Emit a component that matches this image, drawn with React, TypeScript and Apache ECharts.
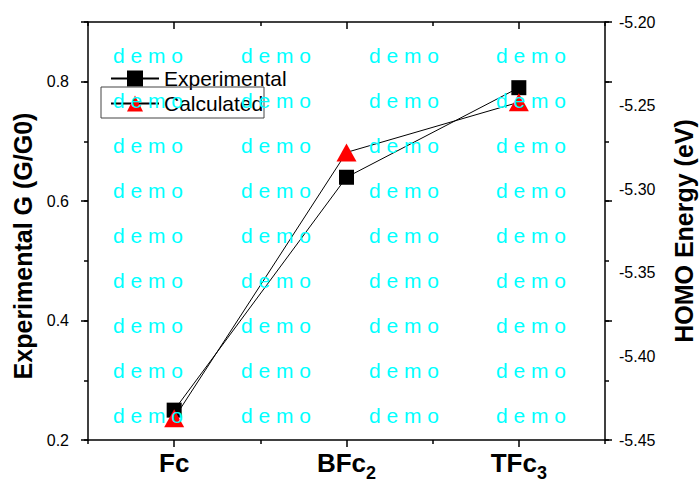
import React, { useEffect, useRef } from 'react';
import * as echarts from 'echarts';

// ---- data ----
const categories = ['Fc', 'BFc2', 'TFc3'];
const experimentalG = [0.25, 0.64, 0.79];
const calculatedHOMO = [-5.437, -5.278, -5.248];
const leftTickLabels = [0.2, 0.4, 0.6, 0.8];
const rightTickLabels = [-5.45, -5.4, -5.35, -5.3, -5.25, -5.2];
const seriesNames = ['Experimental', 'Calculated'];
const leftAxisTitle = 'Experimental G (G/G0)';
const rightAxisTitle = 'HOMO Energy (eV)';
const watermarkText = 'd e m o';
const watermarkCols = [148, 276, 404, 531];
const watermarkRows = [55, 100, 145, 190, 235, 280, 325, 370, 415];

const FONT = 'Arial, "Liberation Sans", Helvetica, sans-serif';

function catLabel(v: string) {
  const m = /^(.*?)(\d)$/.exec(v);
  return m ? `{main|${m[1]}}{sub|${m[2]}}` : `{main|${v}}`;
}

export default function App() {
  const ref = useRef<HTMLDivElement>(null);
  useEffect(() => {
    if (!ref.current) return;
    const chart = echarts.init(ref.current, undefined, { renderer: 'svg' });
    const axisLine = { show: true, lineStyle: { color: '#000', width: 1.5 } };
    const tickStyle = { color: '#000', width: 1.5 };

    const watermark: any[] = [];
    watermarkRows.forEach((y) =>
      watermarkCols.forEach((x) =>
        watermark.push({
          type: 'text',
          x,
          y,
          z: 100,
          silent: true,
          style: {
            text: watermarkText,
            fill: '#00ffff',
            font: `21px ${FONT}`,
            textAlign: 'center',
            textVerticalAlign: 'middle',
          },
        })
      )
    );

    const option: any = {
      animation: false,
      backgroundColor: '#fff',
      grid: { left: 88, right: 95, top: 22, bottom: 45, containLabel: false, outerBoundsMode: 'none' },
      legend: {
        orient: 'vertical',
        left: 105,
        top: 63,
        itemWidth: 48,
        itemHeight: 20,
        itemGap: 4,
        data: seriesNames,
        textStyle: { fontSize: 21, color: '#000', fontFamily: FONT },
      },
      xAxis: [
        {
          type: 'category',
          position: 'bottom',
          data: categories,
          boundaryGap: true,
          axisLine,
          axisTick: { show: true, alignWithLabel: true, length: 7, lineStyle: tickStyle },
          axisLabel: {
            margin: 15,
            formatter: catLabel,
            rich: {
              main: {
                fontSize: 26,
                lineHeight: 26,
                verticalAlign: 'middle',
                fontWeight: 'bold',
                color: '#000',
                fontFamily: FONT,
                padding: [0, 0, 10, 0],
              },
              sub: {
                fontSize: 18,
                lineHeight: 18,
                verticalAlign: 'middle',
                fontWeight: 'bold',
                color: '#000',
                fontFamily: FONT,
                padding: [10, 0, 0, 0],
              },
            },
          },
          splitLine: { show: false },
        },
        {
          type: 'category',
          position: 'bottom',
          data: categories,
          boundaryGap: true,
          axisLine: { show: false },
          axisTick: { show: true, length: 4, lineStyle: tickStyle },
          axisLabel: { show: false },
          splitLine: { show: false },
        },
        {
          type: 'category',
          position: 'top',
          data: categories,
          boundaryGap: true,
          axisLine,
          axisTick: { show: true, alignWithLabel: true, inside: true, length: 7, lineStyle: tickStyle },
          axisLabel: { show: false },
          splitLine: { show: false },
        },
        {
          type: 'category',
          position: 'top',
          data: categories,
          boundaryGap: true,
          axisLine: { show: false },
          axisTick: { show: true, inside: true, length: 4, lineStyle: tickStyle },
          axisLabel: { show: false },
          splitLine: { show: false },
        },
      ],
      yAxis: [
        {
          type: 'value',
          position: 'left',
          min: 0.2,
          max: 0.9,
          interval: 0.2,
          name: leftAxisTitle,
          nameLocation: 'middle',
          nameGap: 52,
          nameTextStyle: { fontSize: 25, fontWeight: 'bold', color: '#000', fontFamily: FONT, padding: [0, 30, 0, 0] },
          axisLine,
          axisTick: { show: true, length: 7, lineStyle: tickStyle },
          axisLabel: {
            margin: 19,
            fontSize: 16,
            color: '#000',
            fontFamily: FONT,
            formatter: (v: number) => {
              const hit = leftTickLabels.find((t) => Math.abs(t - v) < 1e-6);
              return hit !== undefined ? hit.toFixed(1) : '';
            },
          },
          splitLine: { show: false },
        },
        {
          type: 'value',
          position: 'left',
          min: 0.2,
          max: 0.9,
          interval: 0.1,
          axisLine: { show: false },
          axisTick: { show: true, length: 4, lineStyle: tickStyle },
          axisLabel: { show: false },
          splitLine: { show: false },
        },
        {
          type: 'value',
          position: 'right',
          min: rightTickLabels[0],
          max: rightTickLabels[rightTickLabels.length - 1],
          interval: 0.05,
          name: rightAxisTitle,
          nameLocation: 'middle',
          nameGap: 66,
          nameTextStyle: { fontSize: 25, fontWeight: 'bold', color: '#000', fontFamily: FONT },
          axisLine,
          axisTick: { show: false },
          axisLabel: {
            margin: 14,
            fontSize: 16,
            color: '#000',
            fontFamily: FONT,
            formatter: (v: number) => {
              const hit = rightTickLabels.find((t) => Math.abs(t - v) < 1e-6);
              return hit !== undefined ? hit.toFixed(2) : '';
            },
          },
          splitLine: { show: false },
        },
        {
          type: 'value',
          position: 'right',
          min: 0.2,
          max: 0.9,
          interval: 0.2,
          axisLine: { show: false },
          axisTick: { show: true, length: 7, lineStyle: tickStyle },
          axisLabel: { show: false },
          splitLine: { show: false },
        },
        {
          type: 'value',
          position: 'right',
          min: 0.2,
          max: 0.9,
          interval: 0.1,
          axisLine: { show: false },
          axisTick: { show: true, length: 4, lineStyle: tickStyle },
          axisLabel: { show: false },
          splitLine: { show: false },
        },
      ],
      series: [
        {
          name: seriesNames[0],
          type: 'line',
          xAxisIndex: 0,
          yAxisIndex: 0,
          data: experimentalG,
          symbol: 'rect',
          symbolSize: 15,
          itemStyle: { color: '#000' },
          lineStyle: { color: '#000', width: 1 },
          z: 3,
        },
        {
          name: seriesNames[1],
          type: 'line',
          xAxisIndex: 0,
          yAxisIndex: 2,
          data: calculatedHOMO,
          symbol: 'triangle',
          symbolSize: [20, 18],
          itemStyle: { color: '#ff0000' },
          lineStyle: { color: '#000', width: 1 },
          z: 4,
        },
      ],
      graphic: [
        {
          type: 'rect',
          z: 50,
          silent: true,
          shape: { x: 101, y: 87, width: 163, height: 31 },
          style: { fill: 'none', stroke: '#444', lineWidth: 1 },
        },
        ...watermark,
      ],
    };
    chart.setOption(option);
    return () => chart.dispose();
  }, []);
  return (
    <div
      ref={ref}
      style={{ position: 'absolute', left: 0, top: 0, width: 700, height: 485 }}
    />
  );
}
